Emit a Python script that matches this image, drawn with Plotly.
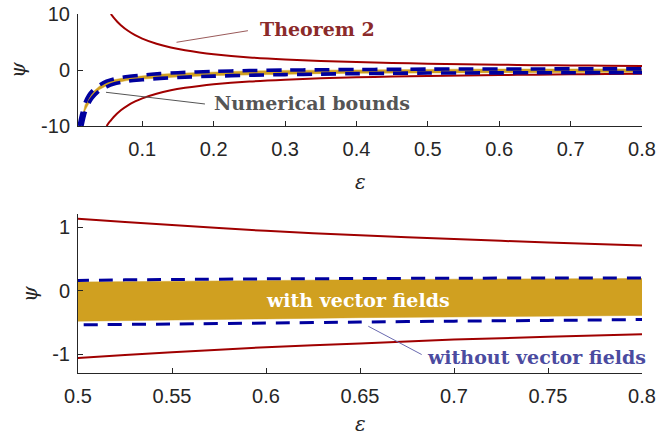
import plotly.graph_objects as go

# ---------------- data ----------------
# Theorem 2 bounds (red)
eps_thm_up = [0.056, 0.06, 0.065, 0.07, 0.08, 0.09, 0.1, 0.12, 0.14, 0.16, 0.18, 0.2,
              0.25, 0.3, 0.35, 0.4, 0.45, 0.5, 0.55, 0.6, 0.65, 0.7, 0.75, 0.8]
psi_thm_up = [10.0, 9.34, 8.62, 8.01, 7.01, 6.23, 5.61, 4.68, 4.01, 3.51, 3.12, 2.81,
              2.25, 1.88, 1.61, 1.41, 1.25, 1.13, 1.03, 0.94, 0.87, 0.81, 0.757, 0.71]
eps_thm_lo = [0.05, 0.055, 0.06, 0.07, 0.08, 0.09, 0.1, 0.12, 0.14, 0.16, 0.18, 0.2,
              0.25, 0.3, 0.35, 0.4, 0.45, 0.5, 0.55, 0.6, 0.65, 0.7, 0.75, 0.8]
psi_thm_lo = [-10.0, -9.15, -8.39, -7.2, -6.31, -5.62, -5.06, -4.23, -3.63, -3.19, -2.84, -2.56,
              -2.06, -1.73, -1.49, -1.31, -1.17, -1.06, -0.97, -0.89, -0.83, -0.77, -0.727, -0.685]

# Numerical bounds without vector fields (blue dashed)
eps_num_up = [0.0115, 0.015, 0.02, 0.025, 0.03, 0.04, 0.05, 0.06, 0.08, 0.1, 0.125, 0.15,
              0.2, 0.25, 0.3, 0.35, 0.4, 0.45, 0.5, 0.55, 0.6, 0.65, 0.7, 0.75, 0.8]
psi_num_up = [-10.0, -8.0, -5.8, -4.5, -3.7, -2.7, -2.0, -1.6, -1.15, -0.9, -0.65, -0.48,
              -0.25, -0.1, -0.02, 0.04, 0.08, 0.12, 0.16, 0.175, 0.185, 0.19, 0.195, 0.198, 0.2]
eps_num_lo = [0.0155, 0.02, 0.025, 0.03, 0.04, 0.05, 0.06, 0.08, 0.1, 0.125, 0.15,
              0.2, 0.25, 0.3, 0.35, 0.4, 0.45, 0.5, 0.55, 0.6, 0.65, 0.7, 0.75, 0.8]
psi_num_lo = [-10.0, -7.6, -6.0, -5.0, -3.7, -3.0, -2.5, -2.0, -1.75, -1.5, -1.33,
              -1.1, -0.93, -0.82, -0.73, -0.65, -0.59, -0.54, -0.525, -0.51, -0.495, -0.48, -0.468, -0.455]

# Numerical bounds with vector fields (gold band)
eps_vf = [0.013, 0.02, 0.03, 0.04, 0.05, 0.06, 0.08, 0.1, 0.125, 0.15, 0.2, 0.25,
          0.3, 0.35, 0.4, 0.45, 0.5, 0.55, 0.6, 0.65, 0.7, 0.75, 0.8]
psi_vf_up = [-10.0, -6.2, -4.0, -2.9, -2.2, -1.75, -1.3, -1.0, -0.75, -0.58, -0.33, -0.17,
             -0.07, 0.0, 0.05, 0.1, 0.135, 0.15, 0.16, 0.17, 0.18, 0.185, 0.19]
psi_vf_lo = [-10.5, -7.2, -4.8, -3.5, -2.8, -2.35, -1.85, -1.62, -1.4, -1.23, -1.0, -0.85,
             -0.74, -0.65, -0.57, -0.52, -0.48, -0.46, -0.445, -0.425, -0.41, -0.40, -0.39]

top_xticks = [0.1, 0.2, 0.3, 0.4, 0.5, 0.6, 0.7, 0.8]
top_xlabels = ["0.1", "0.2", "0.3", "0.4", "0.5", "0.6", "0.7", "0.8"]
top_yticks = [-10, 0, 10]
top_ylabels = ["-10", "0", "10"]
bot_xticks = [0.5, 0.55, 0.6, 0.65, 0.7, 0.75, 0.8]
bot_xlabels = ["0.5", "0.55", "0.6", "0.65", "0.7", "0.75", "0.8"]
bot_yticks = [-1, 0, 1]
bot_ylabels = ["-1", "0", "1"]

# ---------------- styles ----------------
W, H = 656, 435
RED = "#A00000"
BLUE = "#00009E"
GOLD = "#D0A020"
AX = "#262626"
TICKFONT = dict(family="Liberation Sans", size=20, color=AX)
SERIF = "DejaVu Serif"

def px_x(p):
    return p / W

def px_y(p):
    return 1 - p / H

fig = go.Figure()

def band(xaxis, yaxis, xlo_filter=None):
    xs = list(eps_vf)
    up = list(psi_vf_up)
    lo = list(psi_vf_lo)
    if xlo_filter is not None:
        keep = [i for i, e in enumerate(xs) if e >= xlo_filter]
        xs = [xs[i] for i in keep]
        up = [up[i] for i in keep]
        lo = [lo[i] for i in keep]
    fig.add_trace(go.Scatter(x=xs + xs[::-1], y=up + lo[::-1], fill="toself",
                             fillcolor=GOLD, line=dict(color=GOLD, width=0.5),
                             mode="lines", xaxis=xaxis, yaxis=yaxis, hoverinfo="skip",
                             showlegend=False))

def curves(xaxis, yaxis, dashw, redw, dash):
    fig.add_trace(go.Scatter(x=eps_thm_up, y=psi_thm_up, mode="lines",
                             line=dict(color=RED, width=redw, shape="spline", smoothing=0.8),
                             xaxis=xaxis, yaxis=yaxis, showlegend=False))
    fig.add_trace(go.Scatter(x=eps_thm_lo, y=psi_thm_lo, mode="lines",
                             line=dict(color=RED, width=redw, shape="spline", smoothing=0.8),
                             xaxis=xaxis, yaxis=yaxis, showlegend=False))
    for xs, ys in [(eps_num_up, psi_num_up), (eps_num_lo, psi_num_lo)]:
        fig.add_trace(go.Scatter(x=xs, y=ys, mode="lines",
                                 line=dict(color=BLUE, width=dashw, dash=dash,
                                           shape="spline", smoothing=0.8),
                                 xaxis=xaxis, yaxis=yaxis, showlegend=False))

# top panel
band("x", "y")
curves("x", "y", 3.6, 2, "15px,9px")
# bottom panel
band("x2", "y2", xlo_filter=0.5)
curves("x2", "y2", 3.0, 2, "14px,10px")

xdom = [px_x(78), px_x(642)]
axcommon = dict(showline=True, linecolor=AX, linewidth=1, mirror=False, ticks="inside",
                ticklen=5, tickcolor=AX, tickwidth=1, showgrid=False, zeroline=False,
                tickfont=TICKFONT, automargin=False)

fig.update_layout(
    width=W, height=H, margin=dict(l=0, r=0, t=0, b=0, pad=0, autoexpand=False),
    paper_bgcolor="white", plot_bgcolor="white",
    xaxis=dict(domain=xdom, range=[0.01, 0.8], anchor="y", tickvals=top_xticks,
               ticktext=top_xlabels, ticklabelstandoff=5, **axcommon),
    yaxis=dict(domain=[px_y(126), px_y(14)], range=[-10, 10], anchor="x",
               tickvals=top_yticks, ticktext=top_ylabels, ticklabelstandoff=3, **axcommon),
    xaxis2=dict(domain=xdom, range=[0.5, 0.8], anchor="y2", tickvals=bot_xticks,
                ticktext=bot_xlabels, ticklabelstandoff=5, **axcommon),
    yaxis2=dict(domain=[px_y(373.3), px_y(214.3)], range=[-1.3, 1.2], anchor="x2",
                tickvals=bot_yticks, ticktext=bot_ylabels, ticklabelstandoff=3, **axcommon),
)

# leader lines
fig.add_shape(type="line", xref="x", yref="y", x0=0.148, y0=4.95, x1=0.248, y1=7.02,
              line=dict(color="#9A5A5A", width=1))
fig.add_shape(type="line", xref="x", yref="y", x0=0.0492, y0=-3.98, x1=0.1878, y1=-6.07,
              line=dict(color="#555555", width=1))
fig.add_shape(type="line", xref="x2", yref="y2", x0=0.6544, y0=-0.56, x1=0.6828, y1=-1.005,
              line=dict(color="#6A6AB0", width=1))

# text annotations
fig.add_annotation(x=0.262, y=7.3, xref="x", yref="y", text="<b>Theorem 2</b>",
                   showarrow=False, xanchor="left", yanchor="middle",
                   font=dict(family=SERIF, size=19, color="#8B2A2A"))
fig.add_annotation(x=0.1976, y=-5.95, xref="x", yref="y", text="<b>Numerical bounds</b>",
                   showarrow=False, xanchor="left", yanchor="middle",
                   font=dict(family=SERIF, size=19, color="#555555"))
fig.add_annotation(x=0.649, y=-0.15, xref="x2", yref="y2", text="<b>with vector fields</b>",
                   showarrow=False, xanchor="center", yanchor="middle",
                   font=dict(family=SERIF, size=19, color="white"))
fig.add_annotation(x=0.6846, y=-1.036, xref="x2", yref="y2", text="<b>without vector fields</b>",
                   showarrow=False, xanchor="left", yanchor="middle",
                   font=dict(family=SERIF, size=19, color="#4B4BA0"))

# axis labels
for (xp, yp, t, ang) in [(18, 70, "ψ", -90), (30, 294, "ψ", -90),
                         (360, 182, "ε", 0), (360, 424, "ε", 0)]:
    fig.add_annotation(x=px_x(xp), y=px_y(yp), xref="paper", yref="paper",
                       text="<i>" + t + "</i>", showarrow=False, textangle=ang,
                       xanchor="center", yanchor="middle",
                       font=dict(family=SERIF, size=20, color=AX))

fig.write_html("out.html")
